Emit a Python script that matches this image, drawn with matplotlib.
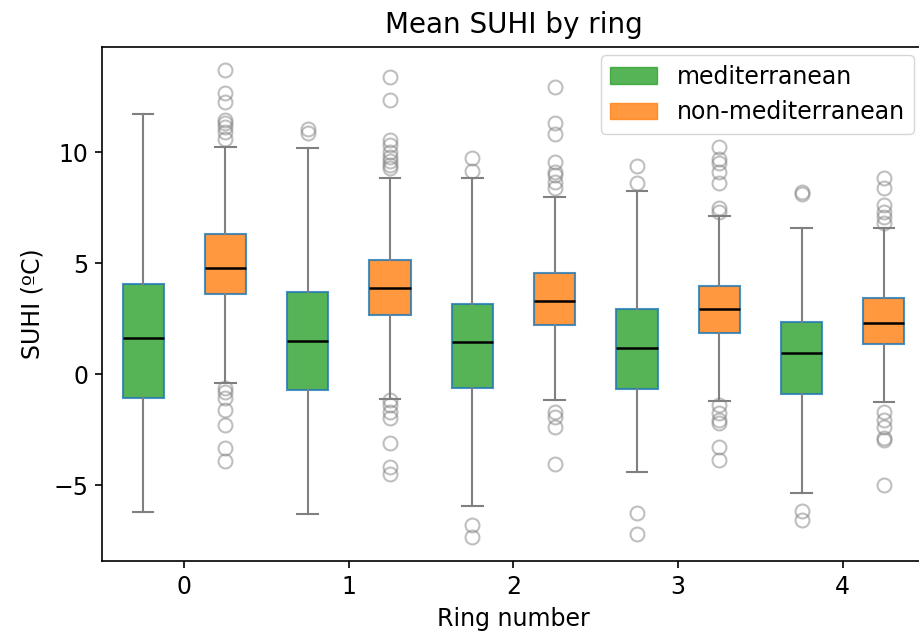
import matplotlib.pyplot as plt
from matplotlib.patches import Patch

rings = [0, 1, 2, 3, 4]

# mediterranean cities, box stats per ring
med_whislo = [-6.23, -6.31, -5.93, -4.40, -5.35]
med_q1 = [-1.10, -0.72, -0.62, -0.69, -0.90]
med_median = [1.64, 1.49, 1.43, 1.16, 0.93]
med_q3 = [4.04, 3.68, 3.17, 2.94, 2.34]
med_whishi = [11.71, 10.20, 8.84, 8.23, 6.58]
med_fliers = [
    [],
    [11.06, 10.87],
    [9.75, 9.16, -6.80, -7.33],
    [9.37, 8.62, -6.28, -7.21],
    [8.20, 8.12, -6.16, -6.58],
]

# non-mediterranean cities
non_whislo = [-0.42, -1.13, -1.17, -1.20, -1.28]
non_q1 = [3.59, 2.64, 2.21, 1.87, 1.34]
non_median = [4.79, 3.87, 3.29, 2.91, 2.31]
non_q3 = [6.32, 5.15, 4.53, 3.98, 3.44]
non_whishi = [10.24, 8.84, 7.96, 7.13, 6.59]
non_fliers = [
    [13.69, 12.67, 12.27, 11.44, 11.29, 11.11, 10.91, 10.57,
     -0.65, -0.80, -1.10, -1.62, -2.30, -3.35, -3.90],
    [13.36, 12.36, 10.54, 10.32, 10.02, 9.79, 9.61, 9.41, 9.26,
     -1.17, -1.40, -1.70, -2.00, -3.09, -4.17, -4.50],
    [12.94, 11.29, 10.81, 9.56, 9.11, 8.96, 8.66, 8.36,
     -1.70, -1.92, -2.37, -4.05],
    [10.24, 9.68, 9.52, 9.11, 8.62, 7.46, 7.31,
     -1.40, -1.77, -2.07, -2.22, -3.30, -3.87],
    [8.81, 8.36, 7.61, 7.31, 7.09, 6.82,
     -1.70, -2.07, -2.37, -2.90, -2.97, -5.00],
]


def make_stats(whislo, q1, med, q3, whishi, fliers):
    return [dict(whislo=a, q1=b, med=c, q3=d, whishi=e, fliers=f)
            for a, b, c, d, e, f in zip(whislo, q1, med, q3, whishi, fliers)]


def draw(ax, stats, positions, color):
    bp = ax.bxp(stats, positions=positions, widths=0.25, patch_artist=True,
                showfliers=True,
                boxprops=dict(facecolor=color, edgecolor='tab:blue', alpha=0.8, linewidth=1.5),
                whiskerprops=dict(color='gray', linewidth=1.5),
                capprops=dict(color='gray', linewidth=1.5),
                medianprops=dict(color='black', linewidth=1.8),
                flierprops=dict(marker='o', markerfacecolor='none', markeredgecolor='gray',
                                markersize=10, markeredgewidth=1.5, alpha=0.5))
    return bp


plt.rcParams['font.size'] = 17
fig = plt.figure(figsize=(9.19, 6.38), dpi=100)
ax = fig.add_axes([0.111, 0.1207, 0.8955, 0.8056])

draw(ax, make_stats(med_whislo, med_q1, med_median, med_q3, med_whishi, med_fliers),
     [r - 0.25 for r in rings], 'tab:green')
draw(ax, make_stats(non_whislo, non_q1, non_median, non_q3, non_whishi, non_fliers),
     [r + 0.25 for r in rings], 'tab:orange')

ax.set_xlim(-0.5, 4.5)
ax.set_xticks(rings)
ax.set_xticklabels([str(r) for r in rings])
ax.set_ylim(-8.42, 14.73)
for s in ax.spines.values():
    s.set_linewidth(1.2)
ax.tick_params(width=1.2, length=5, pad=5)

ax.set_title('Mean SUHI by ring', fontsize=20, pad=10)
ax.set_xlabel('Ring number', labelpad=6)
ax.set_ylabel('SUHI (ºC)', labelpad=6)
ax.legend(handles=[Patch(facecolor='tab:green', edgecolor='tab:green', alpha=0.8, label='mediterranean'),
                   Patch(facecolor='tab:orange', edgecolor='tab:orange', alpha=0.8, label='non-mediterranean')],
          loc='upper right', bbox_to_anchor=(0.9866, 0.984), borderaxespad=0)

fig.savefig('out.png', dpi=100)
